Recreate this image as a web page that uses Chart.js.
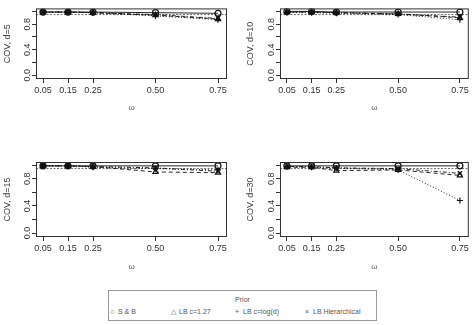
<!DOCTYPE html>
<html>
<head>
<meta charset="utf-8">
<script src="https://cdn.jsdelivr.net/npm/chart.js@4/dist/chart.umd.min.js"></script>
<style>
  html, body { margin: 0; padding: 0; background: #fff; }
  #wrap { position: relative; width: 474px; height: 325px; overflow: hidden; font-family: "Liberation Sans", Arial, sans-serif; }
  .panel { position: absolute; width: 237px; height: 140px; }
  #legend { position: absolute; left: 108px; top: 290px; width: 269px; height: 31px; border: 1px solid #9a9a9a; box-sizing: border-box; color: #555; font-size: 7px; }
  #legend .title { position: absolute; left: 0; right: 0; top: 5px; text-align: center; }
  #legend .item { position: absolute; top: 17px; white-space: nowrap; }
  #legend .sym { display: inline-block; width: 6px; text-align: center; margin-right: 3px; }
</style>
</head>
<body>
<div id="wrap">
  <div class="panel" style="left:0;top:0"><canvas id="p5" width="237" height="140"></canvas></div>
  <div class="panel" style="left:237px;top:0"><canvas id="p10" width="237" height="140"></canvas></div>
  <div class="panel" style="left:0;top:140px"><canvas id="p15" width="237" height="140"></canvas></div>
  <div class="panel" style="left:237px;top:140px"><canvas id="p30" width="237" height="140"></canvas></div>
  <div id="legend">
    <div class="title">Prior</div>
    <div class="item" style="left:0"><span class="sym">○</span>S &amp; B</div>
    <div class="item" style="left:61px"><span class="sym">△</span>LB c=1.27</div>
    <div class="item" style="left:125px"><span class="sym">+</span>LB c=log(d)</div>
    <div class="item" style="left:195px"><span class="sym">×</span>LB Hierarchical</div>
  </div>
</div>
<script>
// coverage of the credible intervals against omega, one panel per dimension d
const omega = [0.05, 0.15, 0.25, 0.50, 0.75];
const NOMINAL = 0.95;
const yTicks = [0, 0.2, 0.4, 0.6, 0.8, 1.0];
const yLabelled = [0, 0.4, 0.8];

const sb_d5   = [0.99, 0.99, 0.99, 0.98, 0.97];
const lb127_d5 = [0.99, 0.99, 0.98, 0.94, 0.88];
const lblog_d5 = [0.99, 0.99, 0.98, 0.93, 0.87];
const lbhier_d5 = [0.99, 0.99, 0.98, 0.95, 0.89];

const sb_d10   = [1.00, 1.00, 0.99, 0.99, 0.99];
const lb127_d10 = [0.99, 0.99, 0.98, 0.96, 0.90];
const lblog_d10 = [0.98, 0.98, 0.97, 0.95, 0.87];
const lbhier_d10 = [0.99, 0.99, 0.98, 0.96, 0.91];

const sb_d15   = [0.99, 0.99, 0.99, 0.99, 0.99];
const lb127_d15 = [0.99, 0.99, 0.98, 0.90, 0.89];
const lblog_d15 = [0.99, 0.99, 0.97, 0.95, 0.93];
const lbhier_d15 = [0.99, 0.99, 0.98, 0.96, 0.91];

const sb_d30   = [0.99, 0.99, 0.99, 0.99, 0.99];
const lb127_d30 = [0.97, 0.97, 0.92, 0.93, 0.85];
const lblog_d30 = [0.98, 0.97, 0.96, 0.93, 0.48];
const lbhier_d30 = [0.98, 0.98, 0.96, 0.95, 0.88];

const INK = '#111';
const AXIS = '#333';
const FONT = '"Liberation Sans", Arial, sans-serif';

// R-ish frame: box, nominal line, rotated y tick labels
const rFrame = {
  id: 'rFrame',
  beforeDatasetsDraw(chart) {
    const { ctx, chartArea: a, scales: { y } } = chart;
    ctx.save();
    ctx.strokeStyle = '#444';
    ctx.lineWidth = 0.8;
    ctx.setLineDash([2, 1.5]);
    const yn = y.getPixelForValue(NOMINAL);
    ctx.beginPath();
    ctx.moveTo(a.left, yn);
    ctx.lineTo(a.right, yn);
    ctx.stroke();
    ctx.restore();
  },
  afterDraw(chart) {
    const { ctx, chartArea: a, scales: { y } } = chart;
    ctx.save();
    ctx.strokeStyle = AXIS;
    ctx.lineWidth = 1;
    ctx.strokeRect(a.left + 0.5, a.top + 0.5, a.right - a.left - 1, a.bottom - a.top - 1);
    ctx.fillStyle = AXIS;
    ctx.font = '9px ' + FONT;
    ctx.textAlign = 'center';
    ctx.textBaseline = 'middle';
    yLabelled.forEach(v => {
      const py = y.getPixelForValue(v);
      ctx.save();
      ctx.translate(a.left - 8, py);
      ctx.rotate(-Math.PI / 2);
      ctx.fillText(v.toFixed(1), 0, 0);
      ctx.restore();
    });
    ctx.restore();
  }
};

function series(label, values, style, dash) {
  return {
    label,
    data: omega.map((w, i) => ({ x: w, y: values[i] })),
    borderColor: INK,
    backgroundColor: 'transparent',
    borderWidth: 0.9,
    borderDash: dash,
    pointStyle: style,
    pointRadius: 3,
    pointBorderWidth: 1.2,
    pointBorderColor: INK,
    pointBackgroundColor: 'transparent',
    tension: 0,
  };
}

function panel(id, dLabel, sb, lb127, lblog, lbhier, geo) {
  new Chart(document.getElementById(id), {
    type: 'line',
    data: {
      datasets: [
        series('S & B', sb, 'circle', []),
        series('LB c=1.27', lb127, 'triangle', [4, 3]),
        series('LB c=log(d)', lblog, 'cross', [1, 2]),
        series('LB Hierarchical', lbhier, 'crossRot', [1, 2, 4, 2]),
      ],
    },
    options: {
      responsive: false,
      animation: false,
      events: [],
      layout: { padding: { top: geo.top, right: geo.right, left: 0, bottom: 0 } },
      plugins: { legend: { display: false }, tooltip: { enabled: false } },
      scales: {
        x: {
          type: 'linear',
          min: 0.022,
          max: 0.786,
          afterBuildTicks: s => { s.ticks = omega.map(v => ({ value: v })); },
          afterFit: s => { s.height = geo.xh; },
          grid: { drawOnChartArea: false, drawTicks: true, tickLength: 4, color: AXIS },
          border: { display: false },
          ticks: { color: AXIS, font: { size: 9, family: FONT }, padding: 2, maxRotation: 0, autoSkip: false,
                   callback: v => v.toFixed(2) },
          title: { display: true, text: 'ω', color: '#555', font: { size: 8, family: FONT }, padding: { top: 0, bottom: geo.tb } },
        },
        y: {
          type: 'linear',
          min: -0.058,
          max: 1.047,
          afterBuildTicks: s => { s.ticks = yTicks.map(v => ({ value: v })); },
          afterFit: s => { s.width = geo.yw; },
          grid: { drawOnChartArea: false, drawTicks: true, tickLength: 4, color: AXIS },
          border: { display: false },
          ticks: { display: true, color: 'transparent', font: { size: 9, family: FONT }, callback: () => '' },
          title: { display: true, text: 'COV, ' + dLabel, color: '#444', font: { size: 9, family: FONT }, padding: { top: geo.tl, bottom: 0 } },
        },
      },
    },
    plugins: [rFrame],
  });
}

panel('p5',  'd=5',  sb_d5,  lb127_d5,  lblog_d5,  lbhier_d5,  { top: 3, right: 10, xh: 61, yw: 36, tb: 27, tl: 2 });
panel('p10', 'd=10', sb_d10, lb127_d10, lblog_d10, lbhier_d10, { top: 3, right: 5, xh: 61, yw: 43, tb: 27, tl: 8 });
panel('p15', 'd=15', sb_d15, lb127_d15, lblog_d15, lbhier_d15, { top: 22, right: 10, xh: 43, yw: 36, tb: 8, tl: 2 });
panel('p30', 'd=30', sb_d30, lb127_d30, lblog_d30, lbhier_d30, { top: 22, right: 5, xh: 43, yw: 43, tb: 8, tl: 8 });
</script>
</body>
</html>
